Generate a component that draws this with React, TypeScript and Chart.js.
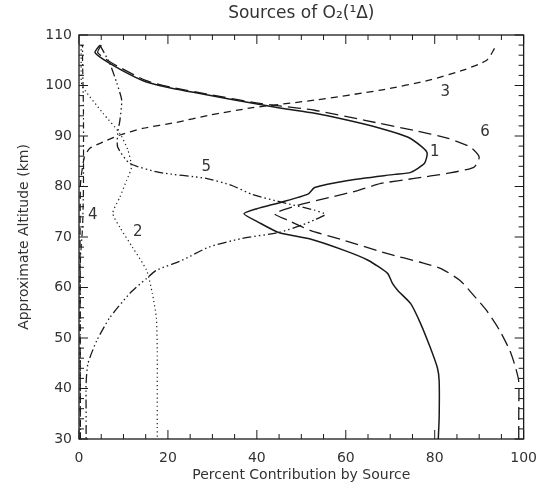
import React, { useEffect, useRef } from "react";
import { Chart, registerables } from "chart.js";
Chart.register(...registerables);

// axis ticks
const xTickValues = [0, 20, 40, 60, 80, 100];
const yTickValues = [30, 40, 50, 60, 70, 80, 90, 100, 110];

// Curve 1 (solid)
const alt1 = [108, 106.5, 104.4, 101, 99.7, 98.1, 96.6, 95.5, 94.5, 93.1, 91.5, 89.8, 87.8, 86.6, 84.6, 82.8, 82.4, 81.2, 79.8, 78.5, 76.9, 75.6, 74.6, 72.9, 70.9, 69.6, 67.3, 65.4, 62.8, 60.8, 59.4, 56.8, 52.9, 48.1, 44.1, 41.5, 34.2, 30];
const pct1 = [4.7, 3.6, 6.9, 14.3, 19.6, 29, 38.5, 45.5, 53, 60.5, 67.9, 73.9, 77.2, 78.3, 77.7, 74.6, 71, 60.5, 53, 51.5, 45.5, 40, 37.1, 40.4, 44.9, 52, 59.8, 65, 69.4, 70.5, 71.7, 74.6, 76.8, 79, 80.6, 81, 81, 80.8];

// Curve 2 (dotted)
const alt2 = [108, 101, 99.7, 94.5, 90.5, 87.2, 83.8, 81.2, 77.9, 74.7, 71.9, 68, 63.4, 58.8, 54, 47.5, 40, 30];
const pct2 = [0.5, 0.5, 0.8, 5.4, 9.2, 11, 11.8, 10.7, 9.2, 7.6, 9.2, 12, 15.2, 16.5, 17.4, 17.6, 17.6, 17.6];

// Curve 3 (short dashes)
const alt3 = [30, 80, 85.8, 87.6, 88.8, 90.2, 91.5, 92.7, 94.1, 95.6, 97.1, 99.1, 101.1, 103.1, 105, 107.4];
const pct3 = [0.3, 0.3, 1.2, 2.5, 5.4, 9.2, 14.3, 21.9, 29.2, 39, 53, 67.9, 79, 86.6, 91.7, 93.5];

// Curve 4 (dash-dot, along the axis)
const alt4 = [30, 65, 72, 80, 95, 105, 108];
const pct4 = [0.3, 0.3, 0.8, 1, 1, 0.8, 0.8];

// Curve 5 (dash-dot-dot-dot)
const alt5 = [108, 104.4, 100.5, 97.1, 93.1, 90.5, 87.8, 84.6, 82.8, 81.6, 80.2, 78.4, 76.9, 75.3, 74.5, 73.4, 72.3, 70.9, 69.7, 68, 65.4, 63.4, 61.8, 58.8, 54, 49.5, 44.9, 41, 35, 30];
const pct5 = [4.7, 6.9, 8.5, 9.6, 9.2, 8.7, 8.7, 11.4, 18, 28.6, 34.4, 39, 45.5, 53, 55.4, 53, 50, 44.9, 36.6, 29.2, 23.2, 17.4, 15.2, 11.4, 6.9, 4, 2, 1.6, 1.6, 1.6];

// Curve 6 (long dashes)
const alt6 = [108, 106.5, 104.4, 101, 99.7, 98.1, 96.6, 95.9, 95.1, 93.1, 91.1, 89.6, 87.8, 85.8, 83.8, 82.6, 81.6, 80.6, 79.2, 77.9, 76.3, 74.6, 73.3, 71.3, 69.3, 66.7, 65, 63.8, 61.4, 58.4, 55.4, 51.5, 47.5, 44.1, 41.4, 35, 30];
const pct6 = [5, 4.2, 7.5, 15, 20.5, 30, 39.5, 45.5, 53, 64.3, 75.4, 82.8, 88, 90, 88.8, 82.8, 75.4, 67.9, 62.7, 56.7, 49.3, 44, 47, 52, 59.8, 69.4, 76.8, 81.3, 85.7, 88.8, 91.7, 94.6, 96.9, 98.2, 98.9, 98.9, 98.9];

// curve number labels
const curveLabels = ["1", "2", "3", "4", "5", "6"];
const labelPct = [80, 13.2, 82.4, 3.1, 28.6, 91.3];
const labelAlt = [86.8, 70.9, 98.7, 74.3, 83.8, 90.8];

const FONT = "'DejaVu Sans', sans-serif";
const INK = "#1a1a1a";
const TEXT = "#333333";

function pts(alt: number[], pct: number[]) {
  return alt.map((a, i) => ({ x: pct[i], y: a }));
}

const framePlugin = {
  id: "frameTicks",
  afterDraw(chart: any) {
    const ctx = chart.ctx;
    const { left, right, top, bottom } = chart.chartArea;
    const xs = chart.scales.x;
    const ys = chart.scales.y;
    ctx.save();
    ctx.strokeStyle = INK;
    ctx.lineWidth = 1.3;
    ctx.strokeRect(left, top, right - left, bottom - top);
    ctx.lineWidth = 1;
    ctx.beginPath();
    for (let v = 0; v <= 100; v += 5) {
      const px = xs.getPixelForValue(v);
      const len = v % 20 === 0 ? 9 : 5;
      ctx.moveTo(px, bottom);
      ctx.lineTo(px, bottom - len);
      ctx.moveTo(px, top);
      ctx.lineTo(px, top + len);
    }
    for (let v = 30; v <= 110; v += 2) {
      const py = ys.getPixelForValue(v);
      const len = v % 10 === 0 ? 9 : 5;
      ctx.moveTo(left, py);
      ctx.lineTo(left + len, py);
      ctx.moveTo(right, py);
      ctx.lineTo(right - len, py);
    }
    ctx.stroke();

    // curve labels
    ctx.fillStyle = TEXT;
    ctx.font = `15px ${FONT}`;
    ctx.textAlign = "center";
    ctx.textBaseline = "middle";
    curveLabels.forEach((t, i) => {
      ctx.fillText(t, xs.getPixelForValue(labelPct[i]), ys.getPixelForValue(labelAlt[i]));
    });

    // titles
    ctx.font = `17px ${FONT}`;
    ctx.fillText("Sources of O\u2082(\u00B9\u0394)", (left + right) / 2, 14);
    ctx.font = `14px ${FONT}`;
    ctx.fillText("Percent Contribution by Source", (left + right) / 2, 475);
    ctx.translate(24, (top + bottom) / 2);
    ctx.rotate(-Math.PI / 2);
    ctx.fillText("Approximate Altitude (km)", 0, 0);
    ctx.restore();
  },
};

export default function App() {
  const ref = useRef<HTMLCanvasElement | null>(null);
  useEffect(() => {
    document.body.style.margin = "0";
    const canvas = ref.current!;
    const common = { pointRadius: 0, showLine: true, borderColor: INK, tension: 0.2, fill: false };
    const chart = new Chart(canvas, {
      type: "scatter",
      data: {
        datasets: [
          { ...common, label: "1", data: pts(alt1, pct1), borderWidth: 1.5, borderDash: [] },
          { ...common, label: "2", data: pts(alt2, pct2), borderWidth: 1.2, borderDash: [1.2, 3] },
          { ...common, label: "3", data: pts(alt3, pct3), borderWidth: 1.3, borderDash: [7, 5] },
          { ...common, label: "4", data: pts(alt4, pct4), borderWidth: 1.2, borderDash: [6, 3, 1.5, 3] },
          { ...common, label: "5", data: pts(alt5, pct5), borderWidth: 1.3, borderDash: [9, 3, 1.5, 3, 1.5, 3, 1.5, 3] },
          { ...common, label: "6", data: pts(alt6, pct6), borderWidth: 1.3, borderDash: [13, 6] },
        ],
      },
      options: {
        animation: false,
        responsive: false,
        devicePixelRatio: 1,
        layout: { padding: { top: 35, right: 17, left: 0, bottom: 0 } },
        plugins: { legend: { display: false }, title: { display: false }, tooltip: { enabled: false } },
        scales: {
          x: {
            type: "linear",
            min: 0,
            max: 100,
            grid: { display: false, drawTicks: false },
            border: { display: false },
            afterFit: (s: any) => { s.height = 48; },
            afterBuildTicks: (s: any) => { s.ticks = xTickValues.map((v) => ({ value: v })); },
            ticks: { padding: 11, color: TEXT, font: { family: FONT, size: 14 }, maxRotation: 0 },
          },
          y: {
            type: "linear",
            min: 30,
            max: 110,
            grid: { display: false, drawTicks: false },
            border: { display: false },
            afterFit: (s: any) => { s.width = 79; },
            afterBuildTicks: (s: any) => { s.ticks = yTickValues.map((v) => ({ value: v })); },
            ticks: { padding: 7, color: TEXT, font: { family: FONT, size: 14 } },
          },
        },
      },
      plugins: [framePlugin],
    } as any);
    return () => chart.destroy();
  }, []);
  return <canvas ref={ref} width={548} height={487} style={{ display: "block", width: 548, height: 487 }} />;
}
